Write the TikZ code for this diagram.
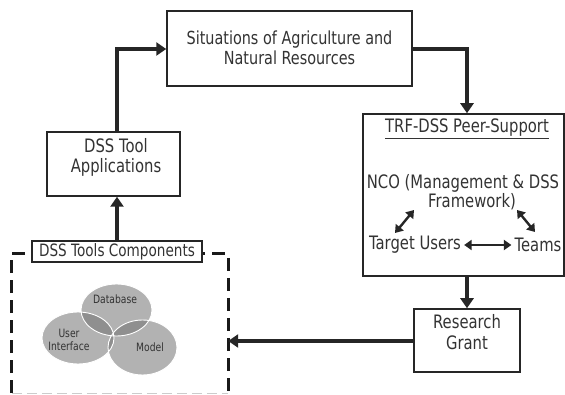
\documentclass[tikz,border=0pt]{standalone}
\usepackage{fontspec}
\setmainfont{DejaVu Sans}[FakeStretch=0.8]
\usetikzlibrary{arrows.meta,calc}
\begin{document}
\begin{tikzpicture}[x=1pt,y=-1pt,
  box/.style={draw=black!85, line width=1.5pt, fill=white, inner sep=0pt},
  conn/.style={line width=3.2pt, draw=black!85, -{Triangle[length=10pt,width=13pt]}},
  dbl/.style={line width=2.4pt, draw=black!85, {Triangle[length=7.5pt,width=10pt]}-{Triangle[length=7.5pt,width=10pt]}},
  txt/.style={font=\fontsize{18.5}{20.5}\selectfont, align=center, text=black!80, inner sep=0pt},
  small/.style={font=\fontsize{11.5}{13}\selectfont, align=center, text=black!80, inner sep=0pt},
  venn/.style={fill=black!30},
  vennov/.style={fill=black!44},
  vennline/.style={draw=white, line width=0.9pt}]
\useasboundingbox (0,0) rectangle (565,395);

% boxes
\node[box, minimum width=245pt, minimum height=75pt] (sit) at (289.5,48.5) {};
\node[txt, font=\fontsize{18}{20}\selectfont] (sitt) at (289.5,48) {Situations of Agriculture and\\Natural Resources};

\node[box, minimum width=201pt, minimum height=162pt] (trf) at (463.5,195) {};
\node[txt] (trft) at (467,129) {\underline{TRF-DSS Peer-Support}};
\node[txt, font=\fontsize{18.5}{15.5}\selectfont] (nco) at (463,192) {NCO (Management \& DSS\\\hspace*{18pt}Framework)};
\node[txt] (tu) at (415,245) {Target Users};
\node[txt] (tm) at (538,245) {Teams};

\node[box, minimum width=106pt, minimum height=63pt] (rg) at (467,340.5) {};
\node[txt] (rgt) at (467,332) {Research\\Grant};

\node[box, minimum width=133pt, minimum height=64pt] (app) at (113.5,164) {};
\node[txt] (appt) at (116,157.5) {DSS Tool\\Applications};

% dashed components frame
\node[minimum width=216pt, minimum height=139pt, inner sep=0pt] (comp) at (120,323.5) {};
\draw[line width=1pt, draw=black!20, dash pattern=on 10pt off 5pt] (comp.south west) -- (comp.south east);
\draw[line width=2.8pt, draw=black!90, dash pattern=on 13pt off 7pt]
  (comp.south west) -- (comp.north west) -- (comp.north east) -- (comp.south east);
\node[box, minimum width=170pt, minimum height=21pt] (lab) at (117,251.5) {};
\node[txt, font=\fontsize{17}{19}\selectfont] (labt) at (117,251.5) {DSS Tools Components};

% Venn
\coordinate (cdb) at (116.5,310);
\coordinate (cui) at (78,338);
\coordinate (cmo) at (142.5,347.5);
\fill[venn] (cdb) ellipse [x radius=35.5, y radius=26];
\fill[venn] (cui) ellipse [x radius=36, y radius=26];
\fill[venn] (cmo) ellipse [x radius=34.5, y radius=27.5];
\begin{scope}
  \clip (cdb) ellipse [x radius=35.5, y radius=26];
  \fill[vennov] (cui) ellipse [x radius=36, y radius=26];
  \fill[vennov] (cmo) ellipse [x radius=34.5, y radius=27.5];
\end{scope}
\begin{scope}
  \clip (cui) ellipse [x radius=36, y radius=26];
  \fill[vennov] (cmo) ellipse [x radius=34.5, y radius=27.5];
\end{scope}
\draw[vennline] (cdb) ellipse [x radius=35.5, y radius=26];
\draw[vennline] (cui) ellipse [x radius=36, y radius=26];
\draw[vennline] (cmo) ellipse [x radius=34.5, y radius=27.5];
\node[small] (db) at (115,299) {Database};
\node[small] (ui) at (69,340) {User\\Interface};
\node[small] (mo) at (150,347) {Model};

% connectors
\coordinate (c1) at (117,49);
\draw[conn] (app.north -| lab.north) -- (c1) -- (sit.west |- c1);
\coordinate (c2) at (467,49);
\draw[conn] (sit.east |- c2) -- (c2) -- (c2 |- trf.north);
\draw[conn] (trf.south -| rg.north) -- (rg.north);
\coordinate (c3) at (0,341);
\draw[conn] (rg.west |- c3) -- (comp.east |- c3);
\draw[conn] (lab.north) -- (lab.north |- app.south);

% peer-support arrows
\draw[dbl] ($(tu.east)+(3,0)$) -- ($(tm.west)+(-3,0)$);
\coordinate (d1) at (414,210);
\coordinate (d2) at (395,233);
\coordinate (d3) at (517,210);
\coordinate (d4) at (535,232);
\draw[dbl] (d1) -- (d2);
\draw[dbl] (d3) -- (d4);
\end{tikzpicture}
\end{document}
